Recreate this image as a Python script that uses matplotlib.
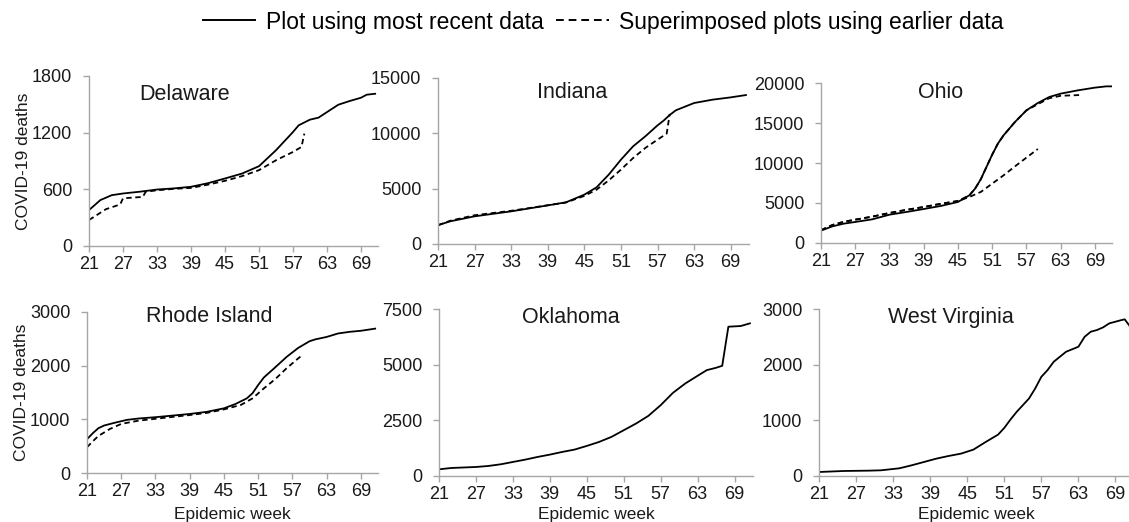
import matplotlib
matplotlib.use("Agg")
import matplotlib.pyplot as plt
from matplotlib.lines import Line2D

plt.rcParams['font.family'] = ['Liberation Sans', 'DejaVu Sans']

# ---- data (epidemic week, cumulative deaths) ----
de_wk = [21, 23, 25, 27, 30, 33, 36, 39, 42, 45, 48, 51, 54, 57, 58, 60, 61.5, 63, 65, 67, 69, 70, 71.5]
de_val = [380, 486, 538, 556, 575, 598, 610, 627, 665, 715, 767, 845, 1014, 1207, 1278, 1338, 1359, 1418, 1496, 1535, 1570, 1602, 1612]
de_old_wk = [21, 24, 26.5, 27, 30.5, 31, 33, 36, 39, 42, 45, 48, 51, 54, 57, 58.5, 59]
de_old_val = [275, 390, 440, 505, 520, 574, 590, 605, 615, 650, 690, 740, 803, 908, 996, 1049, 1190]

in_wk = [21, 23, 27, 33, 39, 42, 45, 47, 49, 51, 53, 55, 57, 58, 59, 60, 63, 66, 69, 71.5]
in_val = [1700, 2050, 2500, 2950, 3490, 3770, 4460, 5120, 6270, 7620, 8830, 9730, 10720, 11150, 11660, 12080, 12740, 13040, 13250, 13460]
in_old_wk = [21, 23, 27, 33, 39, 42, 45, 47, 49, 51, 53, 55, 57, 58.5, 59]
in_old_val = [1700, 2100, 2600, 3000, 3500, 3750, 4350, 4910, 5750, 6720, 7770, 8680, 9430, 9970, 11750]

oh_wk = [21, 23, 25, 27, 30, 33, 36, 39, 42, 45, 47, 48, 49, 50, 51, 52, 53, 55, 57, 59, 61, 63, 66, 69, 71, 72.5]
oh_val = [1550, 2080, 2420, 2630, 2960, 3540, 3880, 4250, 4630, 5130, 5960, 6790, 7960, 9500, 11040, 12420, 13460, 15130, 16580, 17500, 18250, 18670, 19080, 19420, 19580, 19580]
oh_old1_wk = [21, 23, 25, 27, 30, 33, 36, 39, 42, 45, 47, 49, 51, 53, 55, 57, 59]
oh_old1_val = [1600, 2250, 2650, 2920, 3300, 3750, 4150, 4500, 4900, 5250, 5750, 6380, 7420, 8460, 9580, 10670, 11750]
oh_old2_wk = [21, 23, 25, 27, 30, 33, 36, 39, 42, 45, 47, 48, 49, 50, 51, 52, 53, 55, 57, 59, 61, 63, 66.5]
oh_old2_val = [1600, 2250, 2650, 2920, 3300, 3750, 4150, 4500, 4900, 5250, 5960, 6790, 7960, 9500, 11040, 12420, 13460, 15130, 16580, 17350, 18100, 18400, 18500]

ri_wk = [21, 22, 23, 24, 26, 28, 30, 33, 36, 39, 42, 45, 47, 49, 50, 51, 52, 54, 56, 58, 60, 61, 63, 65, 67, 69, 71.5]
ri_val = [630, 740, 835, 885, 940, 990, 1015, 1040, 1070, 1100, 1140, 1205, 1285, 1390, 1485, 1640, 1780, 1970, 2165, 2330, 2455, 2490, 2535, 2600, 2630, 2650, 2690]
ri_old_wk = [21, 22, 23, 25, 27, 30, 33, 36, 39, 42, 45, 48, 50, 52, 54, 56, 58, 58.5]
ri_old_val = [480, 590, 690, 820, 915, 975, 1010, 1045, 1080, 1120, 1185, 1270, 1390, 1577, 1750, 1954, 2134, 2177]

ok_wk = [21, 23, 27, 29, 31, 33, 35, 37, 39, 41, 43, 45, 47, 49, 51, 53, 55, 57, 59, 61, 63, 64.5, 66, 67, 68, 70, 71.5]
ok_val = [300, 360, 405, 450, 525, 630, 735, 855, 960, 1080, 1185, 1350, 1530, 1755, 2055, 2355, 2700, 3180, 3735, 4155, 4500, 4755, 4860, 4950, 6705, 6735, 6855]

wv_wk = [21, 25, 29, 31, 32, 34, 36, 38, 40, 42, 44, 46, 48, 50, 51, 52, 53, 55, 56, 57, 58, 59, 61, 63, 64, 65, 66, 67, 68, 69, 70, 70.5, 71.3, 72]
wv_val = [72, 90, 96, 102, 114, 138, 192, 252, 312, 360, 402, 474, 612, 744, 864, 1014, 1152, 1392, 1572, 1782, 1902, 2052, 2232, 2322, 2500, 2592, 2622, 2670, 2742, 2772, 2802, 2814, 2694, 2724]

week_ticks = list(range(21, 70, 6))

# panels: name, current series, earlier series, y ticks
panels = [
    ("Delaware", (de_wk, de_val), [(de_old_wk, de_old_val)], [0, 600, 1200, 1800]),
    ("Indiana", (in_wk, in_val), [(in_old_wk, in_old_val)], [0, 5000, 10000, 15000]),
    ("Ohio", (oh_wk, oh_val), [(oh_old1_wk, oh_old1_val), (oh_old2_wk, oh_old2_val)], [0, 5000, 10000, 15000, 20000]),
    ("Rhode Island", (ri_wk, ri_val), [(ri_old_wk, ri_old_val)], [0, 1000, 2000, 3000]),
    ("Oklahoma", (ok_wk, ok_val), [], [0, 2500, 5000, 7500]),
    ("West Virginia", (wv_wk, wv_val), [], [0, 1000, 2000, 3000]),
]

# axes boxes in pixels: left, top, right(at week 72), bottom
boxes = [
    (89, 76, 378, 246),
    (438, 78, 749, 244),
    (821, 83, 1112, 243),
    (87, 312, 378, 473),
    (439, 309, 753, 476),
    (819, 309, 1134, 476),
]
title_pos = [(0.33, 0.89), (0.43, 0.91), (0.41, 0.94), (0.42, 0.97), (0.42, 0.95), (0.42, 0.95)]

W, H = 1129, 522
fig = plt.figure(figsize=(W / 100, H / 100), dpi=100)

spine_col = '#a6a6a6'
txt_col = '#1a1a1a'
dash = (3, 2)

for i, (name, cur, olds, yt) in enumerate(panels):
    l, t, r, b = boxes[i]
    ax = fig.add_axes([l / W, 1 - b / H, (r - l) / W, (b - t) / H])
    for wk, val in olds:
        ax.plot(wk, val, color='black', lw=1.3, dashes=dash)
    ax.plot(cur[0], cur[1], color='black', lw=1.3)
    ax.set_xlim(21, 72)
    ax.set_ylim(0, yt[-1])
    ax.set_xticks(week_ticks)
    ax.set_yticks(yt)
    for s in ['top', 'right']:
        ax.spines[s].set_visible(False)
    for s in ['left', 'bottom']:
        ax.spines[s].set_color(spine_col)
        ax.spines[s].set_linewidth(1.0)
    ax.tick_params(axis='both', colors=spine_col, labelcolor=txt_col, labelsize=13,
                   length=4, width=1.0, direction='out')
    ax.tick_params(axis='y', pad=8)
    ax.tick_params(axis='x', pad=3)
    ax.text(title_pos[i][0], title_pos[i][1], name, transform=ax.transAxes,
            ha='center', va='center', fontsize=15.5, color=txt_col)
    if i % 3 == 0:
        ax.set_ylabel("COVID-19 deaths", fontsize=12.5, color=txt_col)
        ax.yaxis.set_label_coords(-58 / (r - l), 0.5)
    if i >= 3:
        ax.set_xlabel("Epidemic week", fontsize=12.5, color=txt_col)
        ax.xaxis.set_label_coords(0.5, -(507 - b) / (b - t))

handles = [Line2D([], [], color='black', lw=1.4),
           Line2D([], [], color='black', lw=1.4, dashes=(4, 2.5))]
fig.legend(handles, ["Plot using most recent data", "Superimposed plots using earlier data"],
           loc='center', bbox_to_anchor=(603 / W, 1 - 22 / H), ncol=2, frameon=False,
           fontsize=16.5, handlelength=2.3, handletextpad=0.45, columnspacing=0.55)

fig.savefig("out.png", dpi=100)
